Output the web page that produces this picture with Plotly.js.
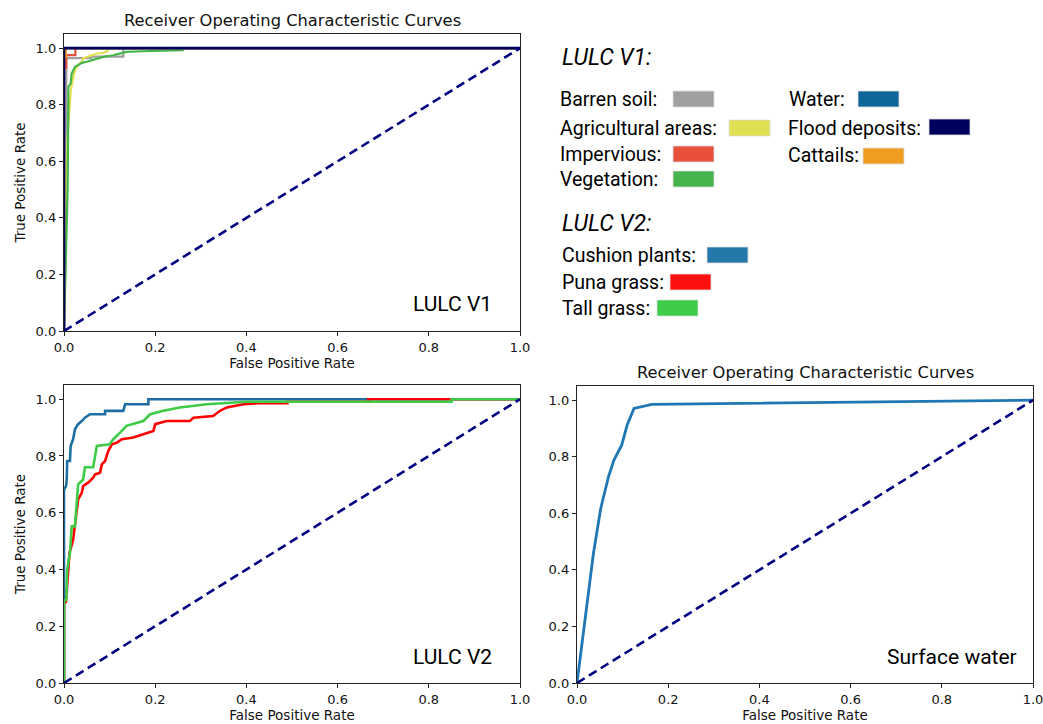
<!DOCTYPE html>
<html>
<head>
<meta charset="utf-8">
<script src="https://cdn.plot.ly/plotly-3.0.1.min.js"></script>
<style>html,body{margin:0;padding:0;background:#fff;}#chart{width:1043px;height:724px;}</style>
</head>
<body>
<div id="chart"></div>
<script>
// ---- LULC V1 ROC curves ----
const barrenFpr = [0, 0.005, 0.005, 0.005, 0.06, 0.06, 0.13, 0.13, 1];
const barrenTpr = [0, 0.45, 0.80, 0.965, 0.965, 0.97, 0.97, 1.0, 1.0];
const agriFpr = [0, 0.002, 0.004, 0.0044, 0.0073, 0.012, 0.015, 0.019, 0.022, 0.026, 0.031, 0.039, 0.042, 0.050, 0.064, 0.072, 0.086, 0.094, 0.097, 0.097, 1];
const agriTpr = [0, 0.27, 0.45, 0.534, 0.675, 0.793, 0.852, 0.887, 0.911, 0.928, 0.940, 0.952, 0.964, 0.969, 0.975, 0.981, 0.983, 0.989, 0.995, 1.0, 1.0];
const impFpr = [0, 0, 0.005, 0.005, 0.025, 0.025, 1];
const impTpr = [0, 0.93, 0.93, 0.975, 0.975, 1.0, 1.0];
const vegFpr = [0, 0.008, 0.0095, 0.0095, 0.0146, 0.0168, 0.0205, 0.024, 0.031, 0.039, 0.050, 0.064, 0.086, 0.108, 0.137, 0.173, 0.247, 0.26, 0.26, 1];
const vegTpr = [0, 0.5, 0.822, 0.863, 0.875, 0.910, 0.922, 0.934, 0.940, 0.948, 0.952, 0.958, 0.969, 0.975, 0.987, 0.989, 0.993, 0.993, 1.0, 1.0];
const waterFpr = [0, 0, 1];
const waterTpr = [0, 1.0, 1.0];
const cattailFpr = [0, 0, 0.004, 0.004, 1];
const cattailTpr = [0, 0.96, 0.97, 1.0, 1.0];
const floodFpr = [0, 0, 1];
const floodTpr = [0, 1.0, 1.0];

// ---- LULC V2 ROC curves ----
const cushionFpr = [0, 0, 0.0044, 0.006, 0.007, 0.013, 0.0146, 0.020, 0.024, 0.031, 0.039, 0.046, 0.057, 0.09, 0.09, 0.13, 0.134, 0.185, 0.185, 1];
const cushionTpr = [0, 0.68, 0.694, 0.717, 0.782, 0.782, 0.835, 0.859, 0.894, 0.912, 0.923, 0.935, 0.947, 0.947, 0.959, 0.959, 0.982, 0.982, 1.0, 1.0];
const punaFpr = [0, 0, 0.0044, 0.007, 0.012, 0.020, 0.024, 0.028, 0.031, 0.039, 0.042, 0.053, 0.064, 0.068, 0.079, 0.083, 0.090, 0.097, 0.105, 0.116, 0.127, 0.152, 0.174, 0.196, 0.20, 0.225, 0.276, 0.284, 0.327, 0.342, 0.357, 0.393, 0.43, 0.49, 0.49, 0.667, 0.667, 1];
const punaTpr = [0, 0.28, 0.287, 0.352, 0.458, 0.505, 0.552, 0.611, 0.647, 0.67, 0.694, 0.706, 0.723, 0.735, 0.741, 0.77, 0.782, 0.817, 0.841, 0.847, 0.859, 0.865, 0.876, 0.888, 0.912, 0.923, 0.923, 0.935, 0.941, 0.959, 0.971, 0.982, 0.986, 0.986, 0.991, 0.991, 1.0, 1.0];
const tallFpr = [0, 0, 0.005, 0.007, 0.013, 0.017, 0.024, 0.028, 0.031, 0.042, 0.046, 0.064, 0.072, 0.10, 0.108, 0.123, 0.137, 0.174, 0.189, 0.218, 0.254, 0.313, 0.40, 0.85, 0.85, 1];
const tallTpr = [0, 0.29, 0.293, 0.399, 0.459, 0.552, 0.552, 0.658, 0.700, 0.717, 0.76, 0.76, 0.835, 0.841, 0.859, 0.882, 0.906, 0.923, 0.947, 0.959, 0.971, 0.982, 0.991, 0.991, 1.0, 1.0];

// ---- Surface water ROC curve ----
const swFpr = [0, 0.036, 0.052, 0.069, 0.081, 0.098, 0.110, 0.125, 0.164, 1];
const swTpr = [0, 0.458, 0.617, 0.729, 0.788, 0.841, 0.912, 0.971, 0.985, 1.0];

// chance diagonal
const diagX = [0, 1];
const diagY = [0, 1];

// legend entries
const v1Labels = ["Barren soil:", "Agricultural areas:", "Impervious:", "Vegetation:", "Water:", "Flood deposits:", "Cattails:"];
const v1Colors = ["#a0a0a0", "#e0e052", "#e9503c", "#45b44c", "#0f6698", "#00005f", "#ef9d20"];
const v2Labels = ["Cushion plants:", "Puna grass:", "Tall grass:"];
const v2Colors = ["#2479aa", "#ff1010", "#3dcb48"];

const tickVals = [0, 0.2, 0.4, 0.6, 0.8, 1.0];
const tickText = ["0.0", "0.2", "0.4", "0.6", "0.8", "1.0"];

const W = 1043, H = 724;
const px = v => v / W;
const py = v => 1 - v / H;

function line(x, y, color, xa, ya, w) {
  return {x: x, y: y, type: 'scatter', mode: 'lines', xaxis: xa, yaxis: ya,
          line: {color: color, width: w || 2.2}, hoverinfo: 'skip', showlegend: false};
}
function diag(xa, ya) {
  return {x: diagX, y: diagY, type: 'scatter', mode: 'lines', xaxis: xa, yaxis: ya,
          line: {color: '#000080', width: 2.6, dash: '9px,5px'}, hoverinfo: 'skip', showlegend: false};
}

const traces = [
  line(barrenFpr, barrenTpr, v1Colors[0], 'x', 'y'),
  line(agriFpr, agriTpr, v1Colors[1], 'x', 'y'),
  line(vegFpr, vegTpr, v1Colors[3], 'x', 'y'),
  line(impFpr, impTpr, v1Colors[2], 'x', 'y'),
  line(waterFpr, waterTpr, v1Colors[4], 'x', 'y'),
  line(cattailFpr, cattailTpr, v1Colors[6], 'x', 'y'),
  line(floodFpr, floodTpr, v1Colors[5], 'x', 'y', 2.6),
  diag('x', 'y'),
  line(cushionFpr, cushionTpr, '#1f6ea3', 'x2', 'y2', 2.6),
  line(punaFpr, punaTpr, '#ff0000', 'x2', 'y2', 2.6),
  line(tallFpr, tallTpr, '#3dcb48', 'x2', 'y2', 2.6),
  diag('x2', 'y2'),
  line(swFpr, swTpr, '#1f77b4', 'x3', 'y3', 2.8),
  diag('x3', 'y3')
];

const tickFont = {family: 'DejaVu Sans', size: 13, color: '#111'};
const axTitleFont = {family: 'DejaVu Sans', size: 13.5, color: '#111'};
function xax(d0, d1, anchor) {
  return {domain: [px(d0), px(d1)], anchor: anchor, range: [0, 1], tickvals: tickVals, ticktext: tickText,
          ticks: 'outside', ticklen: 4, tickcolor: '#222', showline: true, mirror: true, linecolor: '#222', linewidth: 1.2,
          showgrid: false, zeroline: false, tickfont: tickFont, fixedrange: true, ticklabeloverflow: 'allow',
          title: {text: 'False Positive Rate', font: axTitleFont, standoff: 3}};
}
function yax(d0, d1, anchor, withTitle) {
  return {domain: [py(d1), py(d0)], anchor: anchor, range: [0, 1.05], tickvals: tickVals, ticktext: tickText,
          ticks: 'outside', ticklen: 4, tickcolor: '#222', showline: true, mirror: true, linecolor: '#222', linewidth: 1.2,
          showgrid: false, zeroline: false, tickfont: tickFont, fixedrange: true,
          title: withTitle ? {text: 'True Positive Rate', font: axTitleFont, standoff: 6} : {text: ''}};
}

const annotations = [];
const shapes = [];
const legFont = 'Roboto';
function addText(text, x, y, size, italic) {
  annotations.push({text: italic ? '<i>' + text + '</i>' : text, x: px(x), y: py(y), xref: 'paper', yref: 'paper',
    xanchor: 'left', yanchor: 'middle', showarrow: false,
    font: {family: legFont, size: size, color: '#000'}});
}
function addRect(x0, y0, x1, y1, color) {
  shapes.push({type: 'rect', xref: 'paper', yref: 'paper', x0: px(x0), x1: px(x1), y0: py(y1), y1: py(y0),
    fillcolor: color, line: {width: 0.8, color: '#dddddd'}});
}

addText('LULC V1:', 560, 58, 23, true);
const v1Pos = [[558, 100, 673, 91], [558, 128, 729, 120], [558, 154, 673, 146], [558, 179, 673, 171],
               [787, 100, 858, 91], [786, 128, 929, 119], [786, 155, 863, 148]];
v1Labels.forEach((t, i) => {
  const p = v1Pos[i];
  addText(t, p[0], p[1], 19.5);
  addRect(p[2], p[3], p[2] + 41, p[3] + 16, v1Colors[i]);
});
addText('LULC V2:', 560, 223, 23, true);
const v2Pos = [[560, 255, 707, 247], [560, 282, 670, 274], [560, 308, 657, 300]];
v2Labels.forEach((t, i) => {
  const p = v2Pos[i];
  addText(t, p[0], p[1], 19.5);
  addRect(p[2], p[3], p[2] + 41, p[3] + 16, v2Colors[i]);
});

// in-plot panel labels
function panelLabel(text, xRight, y) {
  annotations.push({text: text, x: px(xRight), y: py(y), xref: 'paper', yref: 'paper', xanchor: 'right', yanchor: 'middle',
    showarrow: false, font: {family: legFont, size: 21, color: '#000'}});
}
panelLabel('LULC V1', 494, 304);
panelLabel('LULC V2', 494, 657);
panelLabel('Surface water', 1019, 657);

// titles
function titleText(text, xc, y) {
  annotations.push({text: text, x: px(xc), y: py(y), xref: 'paper', yref: 'paper', xanchor: 'center', yanchor: 'middle',
    showarrow: false, font: {family: 'DejaVu Sans', size: 16.3, color: '#111'}});
}
titleText('Receiver Operating Characteristic Curves', 292, 20);
titleText('Receiver Operating Characteristic Curves', 805, 372);

const layout = {
  width: W, height: H,
  margin: {l: 0, r: 0, t: 0, b: 0},
  paper_bgcolor: '#ffffff', plot_bgcolor: '#ffffff',
  showlegend: false,
  xaxis: xax(64, 520, 'y'),
  yaxis: yax(34, 331, 'x', true),
  xaxis2: xax(64, 520, 'y2'),
  yaxis2: yax(385, 683, 'x2', true),
  xaxis3: xax(577, 1033, 'y3'),
  yaxis3: yax(386, 683, 'x3', false),
  annotations: annotations,
  shapes: shapes
};

Plotly.newPlot('chart', traces, layout, {displayModeBar: false, staticPlot: true});
</script>
</body>
</html>
